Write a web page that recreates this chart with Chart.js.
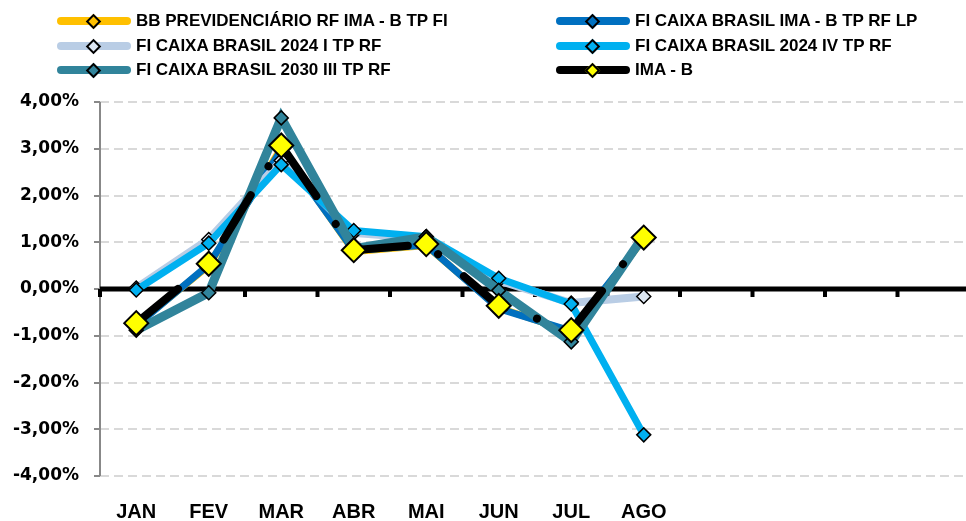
<!DOCTYPE html>
<html>
<head>
<meta charset="utf-8">
<script src="https://cdn.jsdelivr.net/npm/chart.js@4.4.0/dist/chart.umd.min.js"></script>
<style>
  html, body { margin: 0; padding: 0; background: #fff; }
  #wrap { position: relative; width: 966px; height: 521px; overflow: hidden; }
  #chart { position: absolute; left: 0; top: 0; }
  .leg { position: absolute; height: 24px; font: bold 17px "Liberation Sans", Arial, sans-serif; color: #000; white-space: nowrap; }
  .leg .ln { position: absolute; top: 8px; height: 8px; border-radius: 4px; }
  .leg .mk { position: absolute; top: 7px; width: 7px; height: 7px; border: 2px solid #000; transform: rotate(45deg); }
  .leg .tx { position: absolute; top: 2px; line-height: 20px; }
</style>
</head>
<body>
<div id="wrap">
  <canvas id="chart" width="984" height="521"></canvas>
</div>
<script>
var meses = ['JAN', 'FEV', 'MAR', 'ABR', 'MAI', 'JUN', 'JUL', 'AGO', '', '', '', ''];

var bbPrev = [-0.76, 0.50, 3.02, 0.80, 0.93, -0.40, -0.92, 1.07];
var caixaImaB = [-0.78, 0.52, 2.98, 0.82, 0.94, -0.42, -0.90, 1.08];
var caixa2024I = [0.02, 1.06, 2.75, 1.20, 1.08, 0.18, -0.30, -0.16];
var caixa2024IV = [-0.02, 0.98, 2.66, 1.25, 1.12, 0.23, -0.32, -3.12];
var caixa2030 = [-0.88, -0.08, 3.66, 0.86, 1.12, -0.03, -1.13, 1.14];
var imaB = [-0.73, 0.54, 3.07, 0.83, 0.96, -0.36, -0.88, 1.10];

var yTicks = [-4, -3, -2, -1, 0, 1, 2, 3, 4];

function serie(nome, dados, cor, largura, marcador, raio, ordem) {
    return {
        label: nome,
        data: dados,
        borderColor: cor,
        borderWidth: largura,
        pointStyle: 'rectRot',
        pointRadius: raio,
        pointHoverRadius: raio,
        pointBackgroundColor: marcador,
        pointBorderColor: '#000',
        pointBorderWidth: 1.5,
        tension: 0,
        order: ordem
    };
}

var datasets = [
    serie('BB PREVIDENCIÁRIO RF IMA - B TP FI', bbPrev, '#FFC000', 7, '#FFC000', 6, 6),
    serie('FI CAIXA BRASIL IMA - B TP RF LP', caixaImaB, '#0070C0', 7, '#0070C0', 6, 5),
    serie('FI CAIXA BRASIL 2024 I TP RF', caixa2024I, '#B9CDE5', 8, '#DCE6F2', 7, 4),
    serie('FI CAIXA BRASIL 2024 IV TP RF', caixa2024IV, '#00B0F0', 7, '#00B0F0', 7, 3),
    serie('FI CAIXA BRASIL 2030 III TP RF', caixa2030, '#31849B', 9, '#31849B', 7, 2),
    serie('IMA - B', imaB, '#000000', 8, '#FFFF00', 12, 1)
];
// traço-ponto do IMA - B
datasets[5].borderDash = [52, 34, 0.01, 34];
datasets[5].borderDashOffset = 118;
datasets[5].borderCapStyle = 'round';
datasets[5].pointBorderWidth = 2;

// legenda em duas colunas
var legPos = [[57, 21], [556, 21], [57, 45.5], [556, 45.5], [57, 70], [556, 70]];
var wrap = document.getElementById('wrap');
datasets.forEach(function (ds, i) {
    var d = document.createElement('div');
    d.className = 'leg';
    d.style.left = legPos[i][0] + 'px';
    d.style.top = (legPos[i][1] - 12) + 'px';
    d.innerHTML = '<div class="ln" style="left:0;width:74px;background:' + ds.borderColor + '"></div>' +
        '<div class="mk" style="left:31px;background:' + ds.pointBackgroundColor + '"></div>' +
        '<div class="tx" style="left:79px">' + ds.label + '</div>';
    wrap.appendChild(d);
});

var eixoZero = {
    id: 'eixoZero',
    beforeDatasetsDraw: function (chart) {
        var c = chart.ctx, x = chart.scales.x, y = chart.scales.y;
        var y0 = y.getPixelForValue(0);
        c.save();
        c.strokeStyle = '#888';
        c.lineWidth = 2;
        c.beginPath();
        c.moveTo(x.left, y.top);
        c.lineTo(x.left, y.bottom);
        c.stroke();
        c.strokeStyle = '#000';
        c.lineWidth = 5;
        c.beginPath();
        c.moveTo(x.left, y0);
        c.lineTo(x.right, y0);
        c.stroke();
        var passo = (x.right - x.left) / meses.length;
        c.lineWidth = 4;
        for (var i = 0; i <= meses.length; i++) {
            var px = x.left + i * passo;
            c.beginPath();
            c.moveTo(px, y0);
            c.lineTo(px, y0 + 8);
            c.stroke();
        }
        c.restore();
    }
};

new Chart(document.getElementById('chart'), {
    type: 'line',
    data: { labels: meses, datasets: datasets },
    options: {
        responsive: false,
        animation: false,
        layout: { padding: { top: 102, right: 0, bottom: 0, left: 0 } },
        plugins: { legend: { display: false }, tooltip: { enabled: false } },
        scales: {
            x: {
                offset: true,
                grid: { display: false },
                border: { display: false },
                ticks: {
                    autoSkip: false,
                    maxRotation: 0,
                    padding: 16,
                    color: '#000',
                    font: { family: 'Liberation Sans', size: 20, weight: 'bold' }
                },
                afterFit: function (s) { s.height = 45; }
            },
            y: {
                min: -4,
                max: 4,
                afterBuildTicks: function (s) { s.ticks = yTicks.map(function (v) { return { value: v }; }); },
                grid: {
                    color: '#d9d9d9',
                    lineWidth: 2,
                    tickLength: 6,
                    tickColor: '#888',
                    tickWidth: 2
                },
                border: { display: false, dash: [9, 5] },
                ticks: {
                    padding: 15,
                    color: '#000',
                    font: { family: 'DejaVu Sans', size: 17, weight: 'bold' },
                    callback: function (v) { return v.toFixed(2).replace('.', ',') + '%'; }
                },
                afterFit: function (s) { s.width = 100; }
            }
        }
    },
    plugins: [eixoZero]
});
</script>
</body>
</html>
